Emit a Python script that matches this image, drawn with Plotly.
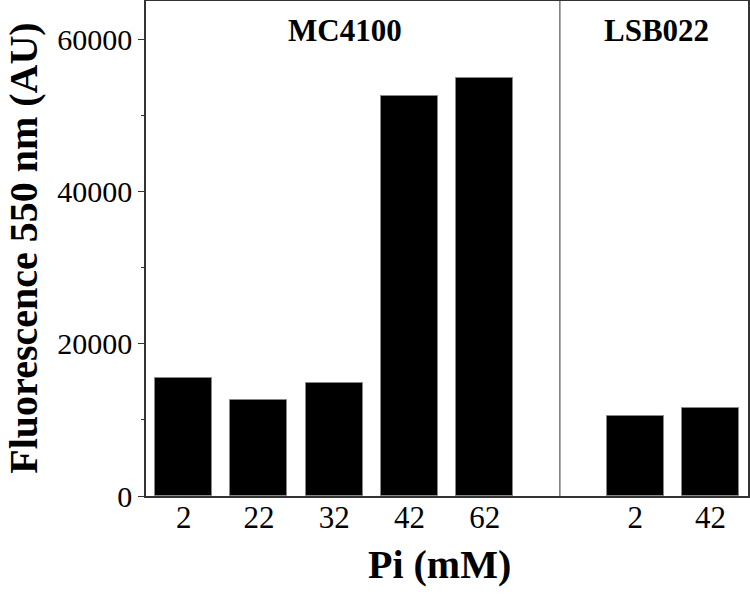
import plotly.graph_objects as go

# Data
strains = ["MC4100", "LSB022"]
mc4100_pi = ["2", "22", "32", "42", "62"]
mc4100_fluor = [15500, 12550, 14850, 52500, 54850]
lsb022_pi = ["2", "42"]
lsb022_fluor = [10550, 11550]

# positions: groups separated by one empty slot
pos_mc = list(range(len(mc4100_pi)))
gap = len(mc4100_pi)
pos_lsb = [gap + 1 + i for i in range(len(lsb022_pi))]

x_all = pos_mc + pos_lsb
y_all = mc4100_fluor + lsb022_fluor
labels = mc4100_pi + lsb022_pi

font_family = "Liberation Serif, Times New Roman, serif"

fig = go.Figure()
fig.add_trace(go.Bar(
    x=x_all, y=y_all, width=0.755,
    marker=dict(color="black", line=dict(color="#888888", width=1)),
    showlegend=False, hoverinfo="skip",
))

fig.add_shape(type="line", xref="x", yref="paper", x0=gap, x1=gap, y0=0, y1=1,
              line=dict(color="#555555", width=1.2))

fig.add_annotation(x=2.15, y=0.94, xref="x", yref="paper", text="<b>" + strains[0] + "</b>",
                   showarrow=False, xanchor="center", yanchor="middle",
                   font=dict(family=font_family, size=31, color="black"))
fig.add_annotation(x=6.28, y=0.94, xref="x", yref="paper", text="<b>" + strains[1] + "</b>",
                   showarrow=False, xanchor="center", yanchor="middle",
                   font=dict(family=font_family, size=31, color="black"))

# axis titles
fig.add_annotation(x=0.488, y=-0.139, xref="paper", yref="paper", text="<b>Pi (mM)</b>",
                   showarrow=False, xanchor="center", yanchor="middle",
                   font=dict(family=font_family, size=40, color="black"))
fig.add_annotation(x=-0.204, y=0.5, xref="paper", yref="paper", text="<b>Fluorescence 550 nm (AU)</b>",
                   showarrow=False, textangle=-90, xanchor="center", yanchor="middle",
                   font=dict(family=font_family, size=40, color="black"))

fig.update_layout(
    width=750, height=594,
    margin=dict(l=146, r=2, t=1, b=98),
    plot_bgcolor="white", paper_bgcolor="white",
    font=dict(family=font_family, color="black"),
    bargap=0,
)
fig.update_xaxes(
    range=[-0.5, 7.5], tickvals=x_all, ticktext=labels,
    showline=True, linecolor="#333333", linewidth=1.5, mirror=True,
    ticks="", showgrid=False, zeroline=False, automargin=False,
    tickfont=dict(family=font_family, size=31), ticklabelstandoff=-7,
)
fig.update_yaxes(
    range=[0, 65000], tickvals=[0, 20000, 40000, 60000],
    showline=True, linecolor="#333333", linewidth=1.5, mirror=True,
    ticks="outside", ticklen=6, tickwidth=1.2, tickcolor="#333333",
    minor=dict(tickvals=[10000, 30000, 50000], ticks="outside", ticklen=3, tickwidth=1.2, tickcolor="#333333"),
    showgrid=False, zeroline=False, automargin=False,
    tickfont=dict(family=font_family, size=30), tickformat="d",
)

fig.write_html("out.html", config={"displayModeBar": False},
               post_script="document.body.style.margin='0px';document.body.style.overflow='hidden';")
